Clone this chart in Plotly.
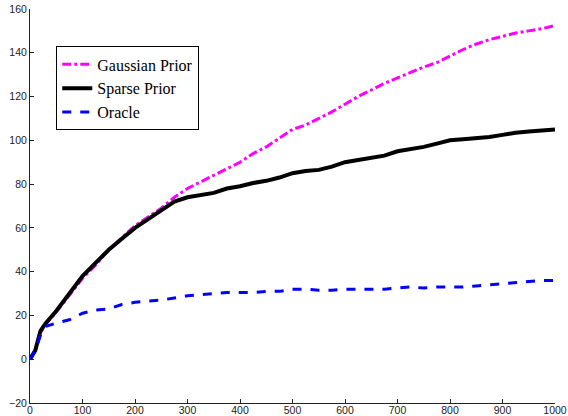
import plotly.graph_objects as go

# Sample positions (iterations)
x_vals = [0, 10, 20, 30, 50, 75, 100, 125, 150, 175, 200, 225, 250, 275, 300,
          325, 350, 375, 400, 425, 450, 475, 500, 525, 550, 575, 600, 625, 650,
          675, 700, 725, 750, 775, 800, 825, 850, 875, 900, 925, 950, 975, 1000]

gaussian_prior = [0, 4, 12, 16, 21.5, 29.5, 37, 43, 50, 55.5, 61, 65, 69, 74, 78,
                  81, 84, 87, 90, 94, 97, 101, 105, 107, 110, 113, 116.5, 120, 123,
                  126, 128.5, 131, 133.5, 135.5, 138.5, 141.5, 144, 146, 147.5, 149,
                  150, 151, 152.5]

sparse_prior = [0, 4, 13, 16.5, 22, 30, 38, 44, 50, 55, 60, 64, 68, 72, 74,
                75, 76, 78, 79, 80.5, 81.5, 83, 85, 86, 86.5, 88, 90, 91, 92,
                93, 95, 96, 97, 98.5, 100, 100.5, 101, 101.5, 102.5, 103.5, 104,
                104.5, 105]

oracle = [0, 4, 11, 15, 16.5, 18, 21, 22.5, 23, 25, 26, 26.5, 27, 28, 29,
          29.5, 30, 30.5, 30.5, 30.5, 31, 31, 32, 32, 31.5, 31.5, 32, 32, 32,
          32, 32.5, 33, 32.5, 33, 33, 33, 33.5, 34, 34.5, 35, 35.5, 36, 36]

x_ticks = [0, 100, 200, 300, 400, 500, 600, 700, 800, 900, 1000]
y_ticks = [-20, 0, 20, 40, 60, 80, 100, 120, 140, 160]

fig = go.Figure()
fig.add_trace(go.Scatter(x=x_vals, y=gaussian_prior, mode="lines", name="Gaussian Prior",
                         line=dict(color="#ff00ff", width=3, dash="dashdot")))
fig.add_trace(go.Scatter(x=x_vals, y=sparse_prior, mode="lines", name="Sparse Prior",
                         line=dict(color="#000000", width=4)))
fig.add_trace(go.Scatter(x=x_vals, y=oracle, mode="lines", name="Oracle",
                         line=dict(color="#0000ff", width=3, dash="dash")))

axis_common = dict(
    showgrid=False, zeroline=False, showline=True, linecolor="#222222", linewidth=1,
    ticks="inside", ticklen=4, tickcolor="#222222", mirror=False,
    tickfont=dict(family="Liberation Sans, Arial, sans-serif", size=10.5, color="#222222"),
    automargin=False,
)

fig.update_layout(
    width=568, height=416,
    margin=dict(l=30, r=13, t=9, b=13),
    paper_bgcolor="white", plot_bgcolor="white",
    xaxis=dict(range=[0, 1000], tickvals=x_ticks, ticklabelstandoff=-3, **axis_common),
    yaxis=dict(range=[-20, 160], tickvals=y_ticks, **axis_common),
    legend=dict(
        x=0.05, y=0.905, xanchor="left", yanchor="top",
        bgcolor="white", bordercolor="#000000", borderwidth=1,
        font=dict(family="Liberation Serif, Times New Roman, serif", size=16, color="#000000"),
        tracegroupgap=0, itemwidth=30,
    ),
    showlegend=True,
)

fig.write_html("out.html")
